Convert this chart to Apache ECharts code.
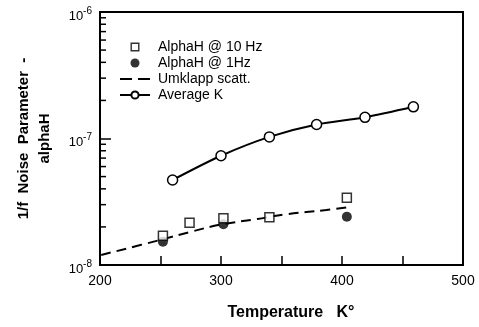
<!DOCTYPE html>
<html>
<head>
<meta charset="utf-8">
<script src="https://cdn.jsdelivr.net/npm/echarts@6/dist/echarts.min.js"></script>
<style>
  html, body { margin: 0; padding: 0; background: #fff; }
  #chart { width: 479px; height: 327px; }
</style>
</head>
<body>
<div id="chart"></div>
<script>
// Temperature (K) and alphaH readings
var tenHzT = [252, 274, 302, 340, 404];
var tenHzAlpha = [1.70e-8, 2.16e-8, 2.34e-8, 2.38e-8, 3.40e-8];

var oneHzT = [252, 302, 404];
var oneHzAlpha = [1.53e-8, 2.10e-8, 2.41e-8];

var umklappT = [201, 250, 274, 299, 330, 354, 387, 408];
var umklappAlpha = [1.20e-8, 1.58e-8, 1.82e-8, 2.08e-8, 2.31e-8, 2.52e-8, 2.72e-8, 2.89e-8];

var averageT = [260, 300, 340, 379, 419, 459];
var averageAlpha = [4.70e-8, 7.31e-8, 1.03e-7, 1.29e-7, 1.47e-7, 1.78e-7];

// minor tick values on the logarithmic axis
var minorTickValues = [2e-8, 3e-8, 4e-8, 5e-8, 6e-8, 7e-8, 8e-8, 9e-8,
                       2e-7, 3e-7, 4e-7, 5e-7, 6e-7, 7e-7, 8e-7, 9e-7];

function pairs(xs, ys) {
  return xs.map(function (x, i) { return [x, ys[i]]; });
}

var FONT = 'Liberation Sans';
var chart = echarts.init(document.getElementById('chart'), null, { renderer: 'canvas' });

// legend icons: hollow square and a two-dash stroke
var squareIcon = 'path://M0,0H10V10H0Z M1.6,1.6V8.4H8.4V1.6Z';
var dashIcon = 'path://M0,0H12V2H0Z M18,0H30V2H18Z';

chart.setOption({
  animation: false,
  backgroundColor: '#fff',
  textStyle: { fontFamily: FONT, color: '#000' },
  grid: {
    left: 100, right: 16, top: 12, bottom: 62,
    outerBoundsMode: 'none',
    containLabel: false,
    show: true, borderColor: '#000', borderWidth: 2
  },
  legend: {
    orient: 'vertical',
    left: 114, top: 35,
    itemWidth: 30, itemHeight: 9, itemGap: 2,
    symbolKeepAspect: true,
    textStyle: { fontSize: 14, fontFamily: FONT, color: '#000', padding: [0, 0, 0, 3] },
    data: [
      { name: 'AlphaH @ 10 Hz', icon: squareIcon, itemStyle: { color: '#000', borderWidth: 0 } },
      { name: 'AlphaH @ 1Hz' },
      { name: 'Umklapp scatt.', icon: dashIcon, itemStyle: { color: '#000' } },
      { name: 'Average K' }
    ]
  },
  xAxis: {
    type: 'value',
    min: 200, max: 500, interval: 50,
    name: 'Temperature   K°',
    nameLocation: 'middle', nameGap: 40,
    nameTextStyle: { fontSize: 16, fontWeight: 'bold', fontFamily: FONT, color: '#000', padding: [0, 0, 0, 19] },
    axisLine: { lineStyle: { color: '#000', width: 2 } },
    axisTick: { inside: true, length: 9, lineStyle: { color: '#000', width: 1.5 } },
    axisLabel: {
      fontSize: 14, color: '#000', margin: 9,
      formatter: function (v) { return v % 100 === 0 ? String(v) : ''; }
    },
    splitLine: { show: false }
  },
  yAxis: {
    type: 'log', logBase: 10,
    min: 1e-8, max: 1e-6,
    name: '1/f  Noise  Parameter  -\nalphaH',
    nameLocation: 'middle', nameGap: 45, nameRotate: 90,
    nameTextStyle: { fontSize: 15, fontWeight: 'bold', fontFamily: FONT, color: '#000', lineHeight: 21 },
    axisLine: { lineStyle: { color: '#000', width: 2 } },
    axisTick: { inside: true, length: 11, lineStyle: { color: '#000', width: 1.5 } },
    axisLabel: {
      margin: 8, color: '#000',
      formatter: function (v) {
        return '{b|10}{s|' + Math.round(Math.log10(v)) + '}';
      },
      rich: {
        b: { fontSize: 13, fontFamily: FONT, color: '#000', padding: [8, 0, 0, 0] },
        s: { fontSize: 10, fontFamily: FONT, color: '#000', padding: [0, 0, 2, 0] }
      }
    },
    splitLine: { show: false }
  },
  series: [
    {
      name: 'Umklapp scatt.',
      type: 'line',
      data: pairs(umklappT, umklappAlpha),
      smooth: 0.4,
      symbol: 'none',
      lineStyle: { color: '#000', width: 2, type: [10, 6] },
      itemStyle: { color: '#000' },
      z: 2
    },
    {
      name: 'AlphaH @ 1Hz',
      type: 'scatter',
      data: pairs(oneHzT, oneHzAlpha),
      symbol: 'circle', symbolSize: 10,
      itemStyle: { color: '#000' },
      z: 3
    },
    {
      name: 'AlphaH @ 10 Hz',
      type: 'scatter',
      data: pairs(tenHzT, tenHzAlpha),
      symbol: 'rect', symbolSize: 9,
      itemStyle: { color: '#fff', borderColor: '#000', borderWidth: 1.5 },
      z: 4
    },
    {
      name: 'Average K',
      type: 'line',
      data: pairs(averageT, averageAlpha),
      smooth: 0.3,
      symbol: 'circle', symbolSize: 10, showSymbol: true,
      lineStyle: { color: '#000', width: 2 },
      itemStyle: { color: '#fff', borderColor: '#000', borderWidth: 1.5 },
      z: 4
    },
    {
      // short inward minor ticks on the log axis, placed through the axis scale
      name: 'minorTicks',
      type: 'custom',
      silent: true,
      data: minorTickValues.map(function (v) { return [200, v]; }),
      renderItem: function (params, api) {
        var p = api.coord([api.value(0), api.value(1)]);
        return {
          type: 'line',
          shape: { x1: p[0], y1: p[1], x2: p[0] + 6, y2: p[1] },
          style: { stroke: '#000', lineWidth: 1.5 }
        };
      },
      z: 5
    }
  ]
});
</script>
</body>
</html>
